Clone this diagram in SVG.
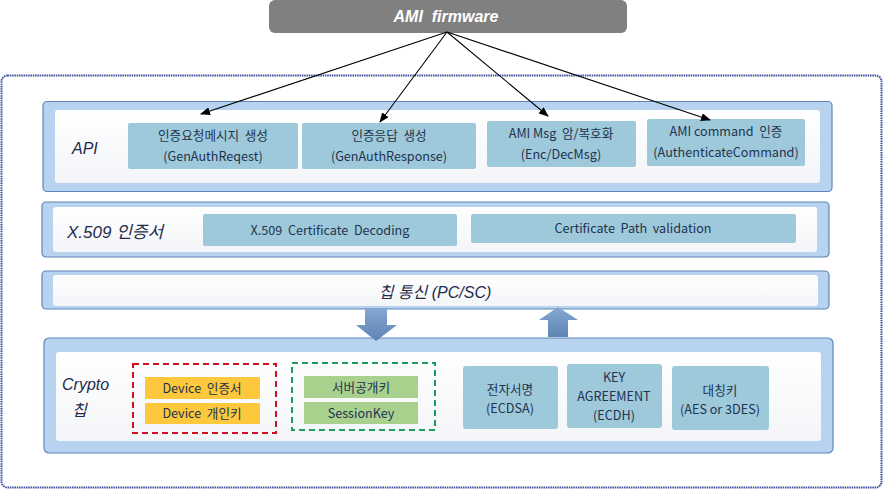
<svg xmlns="http://www.w3.org/2000/svg" width="885" height="490" viewBox="0 0 885 490">
<defs>
<style>
.t{font-family:"Noto Sans CJK KR","Liberation Sans",sans-serif;font-size:12.6px;fill:#23324f;text-anchor:middle;white-space:pre}
.lab{font-family:"Liberation Sans","Noto Sans CJK KR",sans-serif;font-style:italic;fill:#1f2a4a}
.layer{fill:#b8d3ef;stroke:#5f86b6;stroke-width:1.2}
.inner{fill:url(#gw)}
.box{fill:#9ec9da}
.yel{fill:#fdc83c}
.grn{fill:#a9d18e}
.conn{stroke:#000;stroke-width:1.1;fill:none;marker-end:url(#ah)}
.blk{fill:url(#gb)}
</style>
<linearGradient id="gw" x1="0" y1="0" x2="0" y2="1"><stop offset="0" stop-color="#ffffff"/><stop offset="1" stop-color="#f3f5f8"/></linearGradient>
<linearGradient id="gb" x1="0" y1="0" x2="0" y2="1"><stop offset="0" stop-color="#86a8d0"/><stop offset="1" stop-color="#5d84b4"/></linearGradient>
<marker id="ah" markerWidth="10" markerHeight="8" refX="9" refY="4" orient="auto" markerUnits="userSpaceOnUse"><path d="M0,0 L10,4 L0,8 Z" fill="#000"/></marker>
</defs>
<rect width="885" height="490" fill="#fff"/>

<g id="container">
<rect x="1.5" y="75.5" width="880" height="412" rx="6" fill="#fff" stroke="#3b4f9a" stroke-width="2" stroke-dasharray="1.5 0.8"/>
</g>

<g id="firmware">
<rect x="269" y="0" width="358" height="33" rx="6" fill="#808080"/>
<text x="446" y="22" font-family="Liberation Sans,sans-serif" font-size="16" font-weight="bold" font-style="italic" fill="#fff" text-anchor="middle" style="white-space:pre">AMI  firmware</text>
</g>

<g id="api-layer">
<rect class="layer" x="43" y="101.5" width="789" height="90" rx="4"/>
<rect class="inner" x="55" y="110" width="765" height="73" rx="3"/>
<text class="lab" x="72" y="154" font-size="16">API</text>
</g>
<g id="api-req">
<rect class="box" x="128" y="123" width="170" height="46" rx="2"/>
<text class="t" x="213" y="140">인증요청메시지  생성</text>
<text class="t" x="213" y="161">(GenAuthReqest)</text>
</g>
<g id="api-resp">
<rect class="box" x="302" y="123" width="174" height="46" rx="2"/>
<text class="t" x="389" y="140">인증응답  생성</text>
<text class="t" x="389" y="161">(GenAuthResponse)</text>
</g>
<g id="api-enc">
<rect class="box" x="487" y="121" width="149" height="46" rx="2"/>
<text class="t" x="561" y="138">AMI Msg  암/복호화</text>
<text class="t" x="561" y="159">(Enc/DecMsg)</text>
</g>
<g id="api-cmd">
<rect class="box" x="647" y="119" width="158" height="47" rx="2"/>
<text class="t" x="726" y="136">AMI command  인증</text>
<text class="t" x="726" y="157">(AuthenticateCommand)</text>
</g>

<g id="x509-layer">
<rect class="layer" x="42" y="202" width="787" height="55" rx="4"/>
<rect class="inner" x="53" y="207" width="764" height="45" rx="3"/>
<text class="lab" x="67" y="238" font-size="17">X.509 인증서</text>
</g>
<g id="x509-dec">
<rect class="box" x="203" y="214" width="254" height="32" rx="2"/>
<text class="t" x="330" y="235">X.509  Certificate  Decoding</text>
</g>
<g id="x509-path">
<rect class="box" x="471" y="214" width="325" height="29" rx="2"/>
<text class="t" x="633" y="233">Certificate  Path  validation</text>
</g>

<g id="chip-comm">
<rect class="layer" x="42" y="271" width="787" height="38" rx="4"/>
<rect class="inner" x="53" y="275" width="765" height="31" rx="3"/>
<text class="lab" x="435" y="298" font-size="16" text-anchor="middle">칩 통신 (PC/SC)</text>
</g>

<g id="crypto-layer">
<rect class="layer" x="44" y="338" width="789" height="115" rx="5"/>
<rect class="inner" x="56" y="352" width="765" height="89" rx="3"/>
<text class="lab" x="62" y="390" font-size="16">Crypto</text>
<text class="lab" x="72" y="416" font-size="16">칩</text>
</g>
<g id="device-keys">
<rect x="133" y="364" width="143" height="69" fill="none" stroke="#d0101e" stroke-width="2" stroke-dasharray="6 4"/>
<rect class="yel" x="145" y="377" width="115" height="22"/>
<text class="t" x="202" y="393">Device  인증서</text>
<rect class="yel" x="145" y="403" width="115" height="21"/>
<text class="t" x="202" y="418">Device  개인키</text>
</g>
<g id="server-keys">
<rect x="292" y="363" width="143" height="67" fill="none" stroke="#1f9a5e" stroke-width="2" stroke-dasharray="6 4"/>
<rect class="grn" x="304" y="376" width="114" height="22"/>
<text class="t" x="361" y="392">서버공개키</text>
<rect class="grn" x="304" y="402" width="114" height="22"/>
<text class="t" x="361" y="418">SessionKey</text>
</g>
<g id="ecdsa">
<rect class="box" x="463" y="366" width="95" height="63" rx="3"/>
<text class="t" x="510" y="394">전자서명</text>
<text class="t" x="510" y="413">(ECDSA)</text>
</g>
<g id="ecdh">
<rect class="box" x="567" y="364" width="95" height="64" rx="3"/>
<text class="t" x="614" y="382">KEY</text>
<text class="t" x="614" y="401">AGREEMENT</text>
<text class="t" x="614" y="420">(ECDH)</text>
</g>
<g id="sym">
<rect class="box" x="672" y="366" width="97" height="64" rx="3"/>
<text class="t" x="720" y="395">대칭키</text>
<text class="t" x="720" y="414">(AES or 3DES)</text>
</g>

<g id="connectors">
<line class="conn" x1="447" y1="32" x2="201" y2="114"/>
<line class="conn" x1="447" y1="32" x2="380" y2="122"/>
<line class="conn" x1="447" y1="32" x2="548" y2="116"/>
<line class="conn" x1="447" y1="32" x2="710" y2="120"/>
<path class="blk" d="M365,308 H387 V325 H397 L376,341 L356,325 H365 Z"/>
<path class="blk" d="M548,337 V320 H539 L558,307 L578,320 H568 V337 Z"/>
</g>
</svg>
